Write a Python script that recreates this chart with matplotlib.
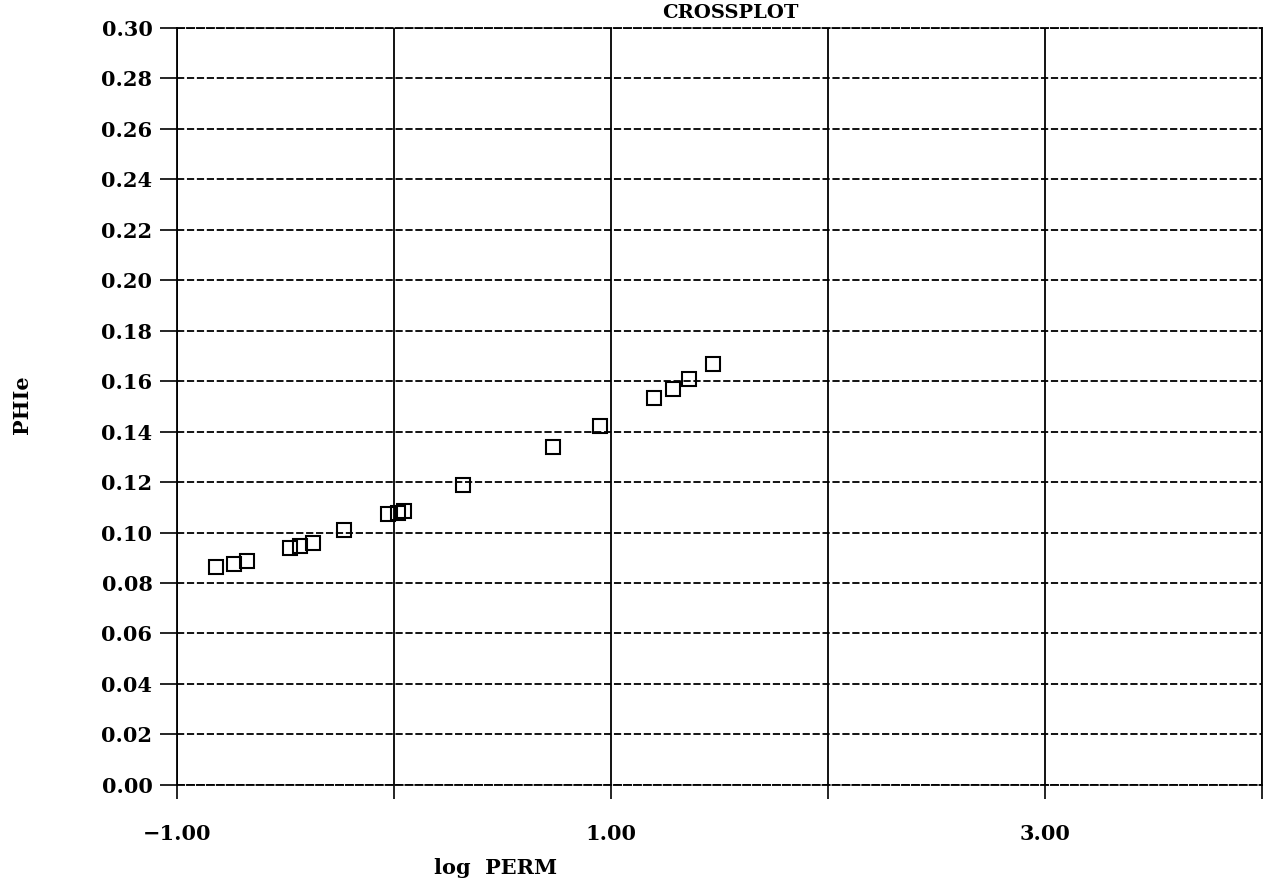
import numpy as np
import matplotlib.pyplot as plt
plt.rc('font', family='DejaVu Serif', weight='bold')

# log PERM vs PHIe
log_perm = [-0.82, -0.74, -0.68, -0.48, -0.435, -0.375, -0.23, -0.03, 0.015, 0.045,
            0.317, 0.73, 0.95, 1.20, 1.285, 1.36, 1.47]
phie     = [0.0865, 0.0875, 0.0886, 0.0939, 0.0946, 0.0957, 0.1011, 0.1072, 0.1078, 0.1085,
            0.1187, 0.1339, 0.1423, 0.1534, 0.1567, 0.161, 0.1668]

xticks  = [-1, 0, 1, 2, 3, 4]
xlabels = ['\u22121.00', '', '1.00', '', '3.00', '']
yticks  = np.arange(0, 0.301, 0.02)
ylabels = ['%.2f' % v for v in yticks]

fig = plt.figure(figsize=(12.86, 8.94), dpi=100)
ax = fig.add_axes([0.138, 0.122, 0.843, 0.847])

ax.plot(log_perm, phie, ls='none', marker='s', ms=9.5, mfc='none',
        mec='black', mew=1.5, zorder=3)

ax.set_xlim(-1, 4)
ax.set_ylim(0, 0.30)
ax.set_xticks(xticks)
ax.set_xticklabels(xlabels, fontsize=15)
ax.set_yticks(yticks)
ax.set_yticklabels(ylabels, fontsize=15)
ax.tick_params(axis='y', direction='out', length=12, width=1.2, pad=6)
ax.tick_params(axis='x', direction='out', length=10, width=1.2, pad=18)

# solid verticals, fine dashed horizontals
ax.grid(axis='x', color='black', lw=1.3, ls='-')
ax.grid(axis='y', color='black', lw=1.3, ls=(0, (4, 1.5)))
for s in ['left', 'right']:
    ax.spines[s].set_linewidth(1.3)
for s in ['top', 'bottom']:
    ax.spines[s].set_linewidth(1.3)
    ax.spines[s].set_linestyle((0, (4, 1.5)))

fig.text(0.568, 0.986, 'CROSSPLOT', ha='center', va='center', fontsize=14)
fig.text(0.385, 0.029, 'log  PERM', ha='center', va='center', fontsize=15)
fig.text(0.017, 0.547, 'PHIe', ha='center', va='center', rotation=90, fontsize=15)

fig.savefig('out.png', dpi=100)
